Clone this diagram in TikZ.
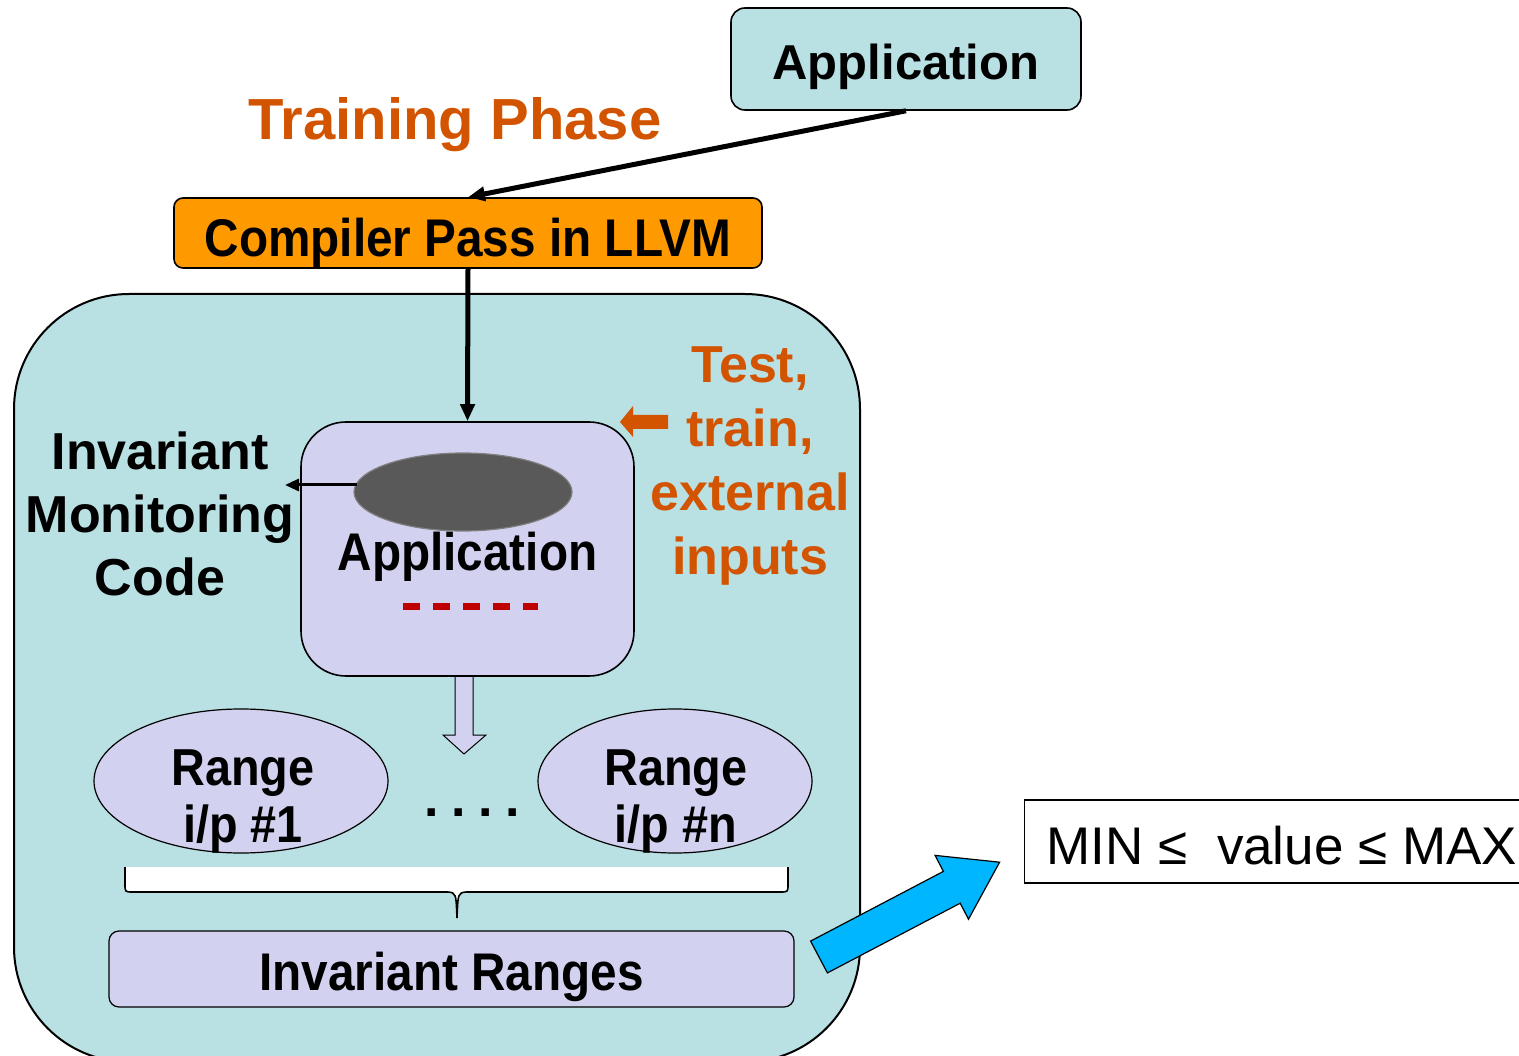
\documentclass[tikz,border=0pt]{standalone}
\usepackage{fontspec}
\setmainfont{Liberation Sans}
\newfontfamily\narrowsans[FakeStretch=0.9]{Liberation Sans}
\usetikzlibrary{arrows.meta,shapes.geometric}

\definecolor{panel}{RGB}{185,224,227}
\definecolor{lav}{RGB}{210,210,240}
\definecolor{passorange}{RGB}{255,153,0}
\definecolor{rust}{RGB}{210,84,0}
\definecolor{slate}{RGB}{89,89,89}
\definecolor{slateedge}{RGB}{128,128,128}
\definecolor{dashred}{RGB}{192,0,0}
\definecolor{sky}{RGB}{0,183,255}

\tikzset{
  boxbase/.style={draw=black, line width=1.6pt, inner sep=0pt},
  bigtext/.style={font=\fontsize{52}{63}\selectfont\bfseries, align=center, inner sep=0pt},
  rangetext/.style={font=\narrowsans\fontsize{52}{57}\selectfont\bfseries, align=center, inner sep=0pt},
  rangeell/.style={ellipse, draw=black, line width=1.2pt, fill=lav, inner sep=0pt},
  flow/.style={line width=5pt, -{Triangle[length=17pt,width=14pt]}},
}

\begin{document}
\begin{tikzpicture}[x=1pt,y=-1pt]
\useasboundingbox (0,0) rectangle (1519,1056);

% outer training container
\draw[line width=2pt, fill=panel, rounded corners=115pt] (14,294) rectangle (860,1062);

% input application
\node[boxbase, fill=panel, rounded corners=14pt, minimum width=350pt, minimum height=102pt,
      font=\fontsize{49}{58}\selectfont\bfseries, text height=42pt, text depth=0pt]
      (app) at (906,59) {Application};

\node[font=\fontsize{58}{68}\selectfont\bfseries, text=rust, anchor=base, inner sep=0pt]
      (phase) at (455,140) {Training Phase};

% compiler pass
\node[boxbase, fill=passorange, rounded corners=9pt, minimum width=588pt, minimum height=70pt,
      font=\narrowsans\fontsize{53}{60}\selectfont\bfseries, text height=48pt, text depth=0pt]
      (pass) at (468,233) {Compiler Pass in LLVM};

% instrumented application
\node[boxbase, fill=lav, rounded corners=45pt, minimum width=333pt, minimum height=254pt,
      font=\narrowsans\fontsize{53}{60}\selectfont\bfseries, text height=42pt, text depth=0pt]
      (inst) at (467.5,549) {Application};
\node[ellipse, fill=slate, draw=slateedge, line width=1.2pt, minimum width=218pt, minimum height=78pt,
      inner sep=0pt] (probe) at (463,492) {};
\draw[dashred, line width=7pt, dash pattern=on 17pt off 13pt] (403,606) -- (538,606);

% monitoring code label
\node[bigtext] (mon) at (160,514) {Invariant\\Monitoring\\Code};
\coordinate (montip) at (285,485);
\draw[line width=3pt, -{Triangle[length=14pt,width=12pt]}] (montip -| probe.west) ++(4,0) -- (montip);

% input sets
\node[bigtext, text=rust, font=\fontsize{52}{64}\selectfont\bfseries] (inputs) at (750,466)
      {Test,\\train,\\external\\inputs};
\fill[rust] (620,422) -- (633,406) -- (633,415) -- (668,415) -- (668,429) -- (633,429) -- (633,437) -- cycle;

% connectors
\draw[flow] (app.south) -- (pass.north);
\draw[flow] (pass.south) -- (inst.north);

% hollow down arrow
\fill[lav] (455,677) -- (455,735) -- (443,735) -- (464,754) -- (486,735) -- (473,735) -- (473,677) -- cycle;
\draw[line width=1pt] (455,677) -- (455,735) -- (443,735) -- (464,754) -- (486,735) -- (473,735) -- (473,677);

% per-input ranges
\node[rangeell, minimum width=294pt, minimum height=144pt] (r1) at (241,781) {};
\node[rangeell, minimum width=274pt, minimum height=144pt] (rn) at (675,781) {};
\node[rangetext] (r1t) at (243,802) {Range\\i/p \#1};
\node[rangetext] (rnt) at (676,802) {Range\\i/p \#n};
\node[font=\fontsize{52}{60}\selectfont\bfseries, anchor=base, inner sep=0pt] (dots) at (472,816)
      {.\hspace{12.5pt}.\hspace{12.5pt}.\hspace{12.5pt}.};

% brace gathering the ranges
\fill[white] (125,867) -- (125,884) .. controls (125,892) .. (133,892) -- (448,892)
  .. controls (456,893) .. (457,918) .. controls (458,893) .. (466,892) -- (780,892)
  .. controls (788,892) .. (788,884) -- (788,867) -- cycle;
\draw[line width=1.6pt] (125,867) -- (125,884) .. controls (125,892) .. (133,892) -- (448,892)
  .. controls (456,893) .. (457,918) .. controls (458,893) .. (466,892) -- (780,892)
  .. controls (788,892) .. (788,884) -- (788,867);

% merged ranges
\node[boxbase, line width=1.2pt, fill=lav, rounded corners=10pt, minimum width=685pt, minimum height=76pt,
      font=\narrowsans\fontsize{53}{60}\selectfont\bfseries, text height=42pt, text depth=0pt]
      (inv) at (451.5,969) {Invariant Ranges};

% resulting check
\node[draw=black, line width=1.2pt, fill=white, anchor=west, minimum height=83pt, inner xsep=22pt, inner ysep=0pt,
      font=\fontsize{53}{60}\selectfont, text height=45pt, text depth=0pt]
      (check) at (1024,841.5) {MIN ≤\ \ value ≤ MAX};

% block arrow towards the check
\draw[line width=1.2pt, fill=sky] (827.4,972.9) -- (810.6,941.1) -- (943.4,871.4) -- (935.1,855.4)
  -- (999.6,862.2) -- (968.5,919.2) -- (960.2,903.2) -- cycle;
\end{tikzpicture}
\end{document}
